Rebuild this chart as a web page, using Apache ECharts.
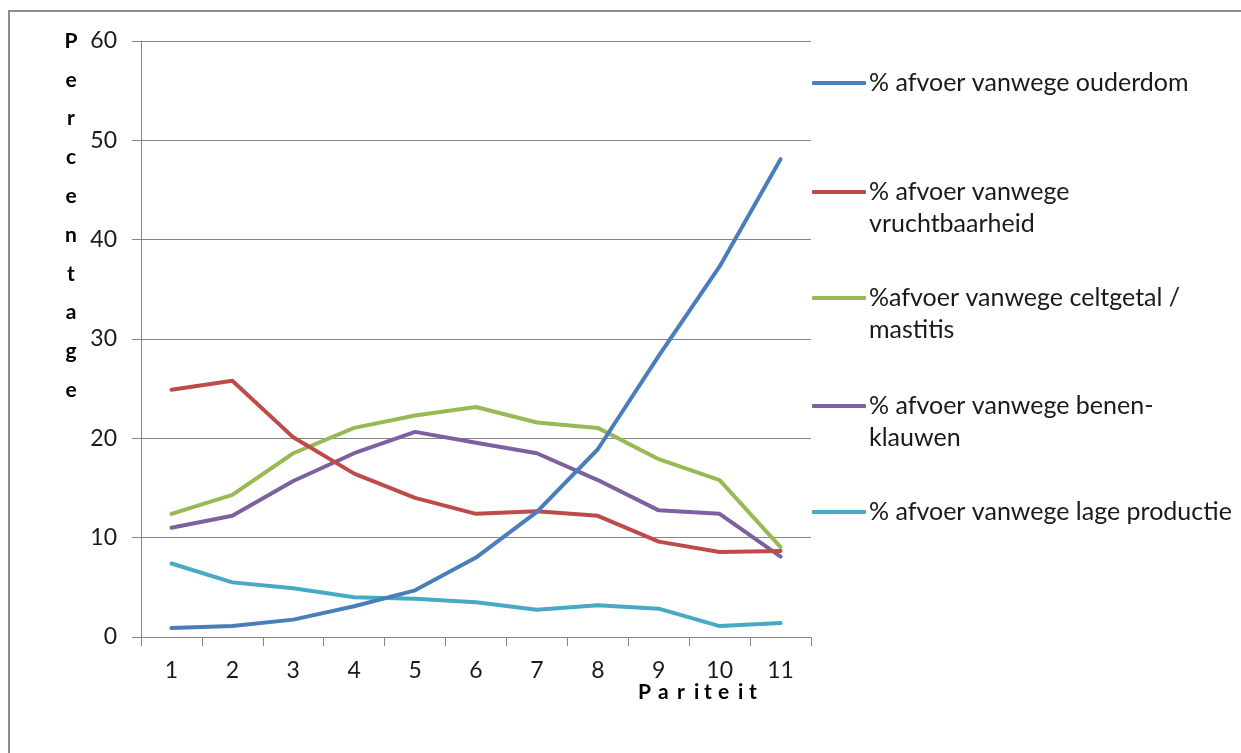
<!DOCTYPE html>
<html>
<head>
<meta charset="utf-8">
<script src="https://cdn.jsdelivr.net/npm/echarts@6/dist/echarts.min.js"></script>
<style>
  html, body { margin: 0; padding: 0; background: #ffffff; }
  #chart { width: 1241px; height: 753px; }
</style>
</head>
<body>
<div id="chart"></div>
<script>
// Pariteit (lactatienummer) op de x-as
const pariteit = ['1', '2', '3', '4', '5', '6', '7', '8', '9', '10', '11'];

// Percentage afvoer per reden
const ouderdom        = [0.9, 1.1, 1.75, 3.1, 4.7, 8.0, 12.6, 18.9, 28.3, 37.3, 48.1];
const vruchtbaarheid  = [24.9, 25.8, 20.1, 16.45, 14.0, 12.4, 12.65, 12.2, 9.6, 8.55, 8.65];
const celtgetal       = [12.4, 14.3, 18.5, 21.05, 22.3, 23.15, 21.6, 21.05, 17.9, 15.8, 9.05];
const benenKlauwen    = [11.0, 12.2, 15.7, 18.5, 20.65, 19.55, 18.5, 15.8, 12.75, 12.4, 8.1];
const lageProductie   = [7.4, 5.5, 4.9, 4.0, 3.85, 3.5, 2.75, 3.2, 2.85, 1.1, 1.4];

// Reeksnamen: eerste en (optioneel) tweede regel in de legenda
const reeksNamen = [
  ['% afvoer vanwege ouderdom'],
  ['% afvoer vanwege', 'vruchtbaarheid'],
  ['%afvoer vanwege celtgetal /', 'mastitis'],
  ['% afvoer vanwege benen-', 'klauwen'],
  ['% afvoer vanwege lage productie']
];
const reeksData = [ouderdom, vruchtbaarheid, celtgetal, benenKlauwen, lageProductie];
const kleuren = ['#4a7ebb', '#be4b48', '#98b954', '#7d60a0', '#46aac5'];

// y-as tick labels
const yTicks = { min: 0, max: 60, interval: 10 };

// as-titels
const yTitel = 'Percentage';
const xTitel = 'Pariteit';

const FONT = 'Lato';
const AXIS_GREY = '#868686';
const TEXT_COLOR = '#1a1a1a';
const LINE_H = 32;
// middelpunt van het legendasymbool per reeks
const legendY = [83, 192, 298, 406, 512];
// beginpositie van elke (gespatieerde) letter van de x-as-titel
const xTitelLetterX = [638, 658, 677, 694, 704, 718, 738, 749];

const chart = echarts.init(document.getElementById('chart'), null, { renderer: 'canvas' });

const fullName = parts => parts.join(' ');

const series = reeksNamen.map((parts, i) => ({
  name: fullName(parts),
  type: 'line',
  data: reeksData[i],
  symbol: 'none',
  smooth: false,
  lineStyle: { color: kleuren[i], width: 4, cap: 'round', join: 'round' },
  itemStyle: { color: kleuren[i] },
  z: 10 - i
}));

const legends = reeksNamen.map((parts, i) => {
  const lines = parts.length;
  const label = lines > 1 ? '\n' + parts.join('\n') : parts[0];
  const boxLines = lines > 1 ? 3 : 1;
  return {
    data: [fullName(parts)],
    left: 812,
    top: legendY[i] - (boxLines * LINE_H) / 2,
    padding: 0,
    icon: 'roundRect',
    itemWidth: 54,
    itemHeight: 4,
    itemGap: 0,
    selectedMode: false,
    formatter: () => label,
    textStyle: {
      fontFamily: FONT,
      fontSize: 25,
      color: TEXT_COLOR,
      lineHeight: LINE_H,
      padding: [0, 0, 0, -2]
    }
  };
});

const xTitelLetters = xTitel.split('').map((ch, i) => ({
  type: 'text',
  x: xTitelLetterX[i],
  y: 692,
  style: {
    text: ch,
    fontFamily: FONT,
    fontWeight: 'bold',
    fontSize: 21,
    fill: '#000000',
    align: 'left',
    verticalAlign: 'middle'
  },
  silent: true
}));

chart.setOption({
  animation: false,
  backgroundColor: '#ffffff',
  grid: {
    left: 141,
    top: 41,
    right: 1241 - 811,
    bottom: 753 - 637,
    containLabel: false,
    outerBoundsMode: 'none'
  },
  xAxis: {
    type: 'category',
    data: pariteit,
    boundaryGap: true,
    axisLine: { show: true, lineStyle: { color: AXIS_GREY, width: 1 } },
    axisTick: { show: true, interval: 0, length: 9, inside: false, lineStyle: { color: AXIS_GREY } },
    axisLabel: { interval: 0, margin: 22, fontFamily: FONT, fontSize: 23, color: TEXT_COLOR },
    splitLine: { show: false }
  },
  yAxis: {
    type: 'value',
    min: yTicks.min,
    max: yTicks.max,
    interval: yTicks.interval,
    axisLine: { show: true, lineStyle: { color: AXIS_GREY, width: 1 } },
    axisTick: { show: true, length: 9, inside: false, lineStyle: { color: AXIS_GREY } },
    axisLabel: { margin: 24, fontFamily: FONT, fontSize: 23, color: TEXT_COLOR },
    splitLine: { show: true, lineStyle: { color: AXIS_GREY, width: 1 } }
  },
  legend: legends,
  graphic: [
    {
      type: 'rect',
      shape: { x: 9, y: 11, width: 1300, height: 800 },
      style: { fill: 'none', stroke: '#8c8c8c', lineWidth: 2 },
      silent: true,
      z: -10
    },
    {
      type: 'text',
      x: 71,
      y: 41 - 38.8 / 2,
      style: {
        text: yTitel.split('').join('\n'),
        fontFamily: FONT,
        fontWeight: 'bold',
        fontSize: 21,
        lineHeight: 38.8,
        fill: '#000000',
        align: 'center',
        verticalAlign: 'top'
      },
      silent: true
    }
  ].concat(xTitelLetters),
  series: series
});
</script>
</body>
</html>
